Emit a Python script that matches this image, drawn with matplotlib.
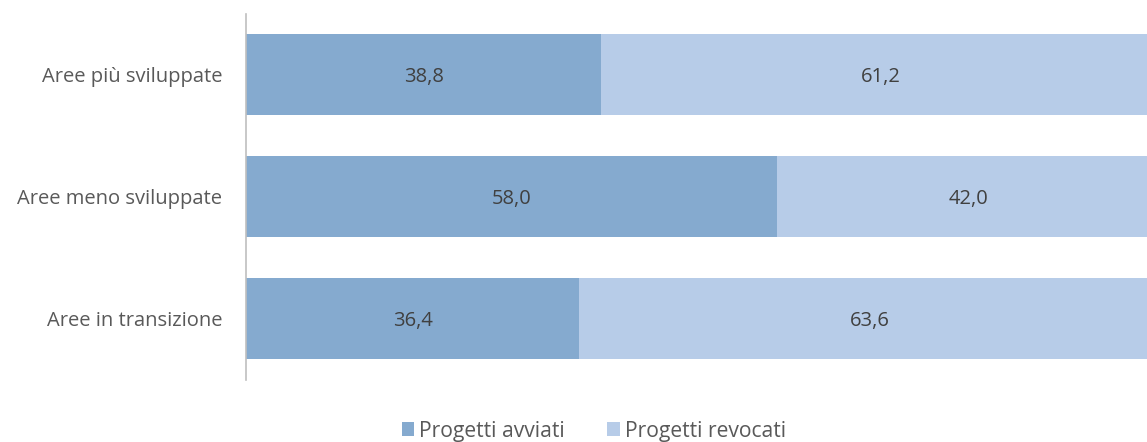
import matplotlib
matplotlib.use("Agg")
import matplotlib.pyplot as plt
from matplotlib.patches import Patch

categories = ["Aree più sviluppate", "Aree meno sviluppate", "Aree in transizione"]
avviati = [38.8, 58.0, 36.4]
revocati = [61.2, 42.0, 63.6]
series_names = ["Progetti avviati", "Progetti revocati"]
c_dark = "#85AACF"
c_light = "#B7CCE8"

plt.rcParams['font.family'] = ['Open Sans', 'DejaVu Sans']
fig = plt.figure(figsize=(11.47, 4.42), dpi=100)
ax = fig.add_axes([246/1147, 1 - 379.5/442, 915/1147, 366/442])

y = list(range(len(categories)))
ax.barh(y, avviati, height=0.66, color=c_dark, edgecolor='none')
ax.barh(y, revocati, left=avviati, height=0.66, color=c_light, edgecolor='none')
for i in y:
    ax.text(avviati[i]/2, i + 0.02, f"{avviati[i]:.1f}".replace('.', ','), ha='center', va='center',
            fontsize=14.5, color='#404040')
    ax.text(avviati[i] + revocati[i]/2, i + 0.02, f"{revocati[i]:.1f}".replace('.', ','), ha='center',
            va='center', fontsize=14.5, color='#404040')

ax.set_xlim(0, 100)
ax.set_ylim(2.5, -0.5)
ax.set_yticks(y)
ax.set_yticklabels(categories, fontsize=14.5, color='#595959')
ax.tick_params(axis='y', length=0, pad=17)
ax.set_xticks([])
for s in ['top', 'right', 'bottom']:
    ax.spines[s].set_visible(False)
ax.spines['left'].set_color('#BFBFBF')
ax.spines['left'].set_linewidth(1.2)

handles = [Patch(facecolor=c_dark, edgecolor='none'), Patch(facecolor=c_light, edgecolor='none')]
fig.legend(handles, series_names, loc='center', bbox_to_anchor=(594/1147, 1 - 431/442), ncol=2,
           frameon=False, fontsize=15.2, handlelength=0.6, handleheight=0.6, handletextpad=0.25,
           columnspacing=2.0, labelcolor='#595959')

fig.savefig("out.png", dpi=100)
